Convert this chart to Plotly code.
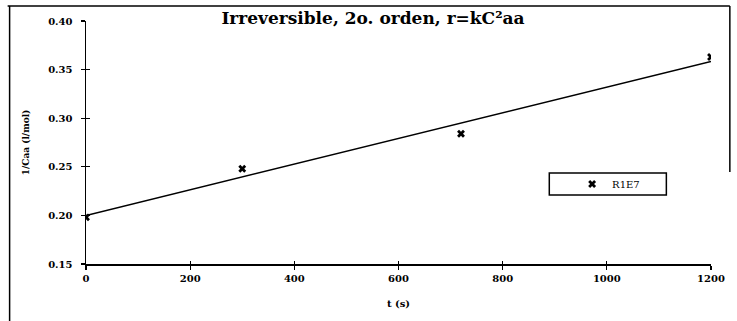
import numpy as np
import plotly.graph_objects as go

# Data
t_s = [0, 300, 720, 1200]
inv_ca = [0.198, 0.248, 0.284, 0.363]
series_name = "R1E7"
x_ticks = [0, 200, 400, 600, 800, 1000, 1200]
y_ticks = [0.15, 0.20, 0.25, 0.30, 0.35, 0.40]
y_tick_text = ["0.15", "0.20", "0.25", "0.30", "0.35", "0.40"]

# Linear trendline fitted to the data
slope, intercept = np.polyfit(t_s, inv_ca, 1)
trend_x = [min(t_s), max(t_s)]
trend_y = [intercept + slope * v for v in trend_x]

W, H = 737, 321
L, R, T, B = 86, 21, 21, 57
PW, PH = W - L - R, H - T - B

def px_x(p):  # page pixel -> paper x
    return (p - L) / PW

def px_y(p):  # page pixel -> paper y
    return (H - B - p) / PH

FONT = "DejaVu Serif"

fig = go.Figure()
fig.add_trace(go.Scatter(
    x=trend_x, y=trend_y, mode="lines",
    line=dict(color="black", width=1.5), showlegend=False, hoverinfo="skip"))
fig.add_trace(go.Scatter(
    x=t_s, y=inv_ca, mode="markers", name=series_name,
    marker=dict(symbol="x", size=7, color="black", line=dict(width=0))))
# invisible trace for the overlay axes (inner half of crossing ticks)
fig.add_trace(go.Scatter(x=[t_s[0]], y=[inv_ca[0]], xaxis="x2", yaxis="y2",
                         mode="markers", marker=dict(opacity=0), showlegend=False,
                         hoverinfo="skip"))

axis_common = dict(showgrid=False, zeroline=False, showline=True,
                   linecolor="black", linewidth=1.5, ticks="outside",
                   ticklen=4, tickwidth=1.2, tickcolor="black")

fig.update_layout(
    width=W, height=H,
    margin=dict(l=L, r=R, t=T, b=B),
    paper_bgcolor="white", plot_bgcolor="white",
    hovermode=False,
    title=dict(text="<b>Irreversible, 2o. orden, r=kC²aa</b>",
               x=373 / W, xref="container", xanchor="center",
               y=1 - 18 / H, yref="container", yanchor="middle",
               font=dict(family=FONT, size=17, color="black")),
    xaxis=dict(range=[0, 1200], tickvals=x_ticks,
               tickfont=dict(family=FONT, size=10, color="black", weight="bold"),
               title=dict(text="<b>t (s)</b>", standoff=17,
                          font=dict(family=FONT, size=10, color="black")),
               **axis_common),
    yaxis=dict(range=[0.15, 0.40], tickvals=y_ticks, ticktext=y_tick_text,
               ticklabelstandoff=6,
               tickfont=dict(family=FONT, size=10, color="black", weight="bold"),
               title=dict(text="<b>1/Caa (l/mol)</b>", standoff=17,
                          font=dict(family=FONT, size=9, color="black")),
               **axis_common),
    xaxis2=dict(range=[0, 1200], overlaying="x", anchor="y2", tickvals=x_ticks,
                showticklabels=False, showgrid=False, zeroline=False, showline=False,
                ticks="inside", ticklen=3, tickwidth=1.2, tickcolor="black"),
    yaxis2=dict(range=[0.15, 0.40], overlaying="y", anchor="x2", tickvals=y_ticks,
                showticklabels=False, showgrid=False, zeroline=False, showline=False,
                ticks="inside", ticklen=4, tickwidth=1.2, tickcolor="black"),
    showlegend=True,
    legend=dict(x=px_x(576), xanchor="left", y=px_y(184), yanchor="middle",
                bgcolor="rgba(0,0,0,0)", borderwidth=0,
                font=dict(family=FONT, size=10, color="black")),
    shapes=[
        # legend box
        dict(type="rect", xref="paper", yref="paper",
             x0=px_x(553), x1=px_x(671), y0=px_y(195), y1=px_y(173),
             line=dict(color="black", width=1.5)),
        # outer frame (left, top, right)
        dict(type="line", xref="paper", yref="paper",
             x0=px_x(9), x1=px_x(9), y0=px_y(321), y1=px_y(6),
             line=dict(color="black", width=1.5)),
        dict(type="line", xref="paper", yref="paper",
             x0=px_x(7), x1=px_x(735), y0=px_y(6), y1=px_y(6),
             line=dict(color="black", width=1.5)),
        dict(type="line", xref="paper", yref="paper",
             x0=px_x(735), x1=px_x(735), y0=px_y(172), y1=px_y(6),
             line=dict(color="black", width=1.5)),
    ],
)

fig.write_html("out.html", config={"displayModeBar": False, "staticPlot": True},
               post_script="document.body.style.margin='0px';")
